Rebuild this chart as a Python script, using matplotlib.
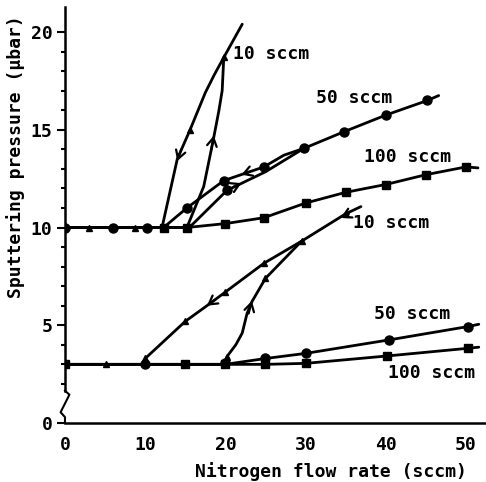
import matplotlib
matplotlib.use("Agg")
import matplotlib.pyplot as plt

# upper set (baseline 10 ubar)
up10_x = [0, 15.2, 16.2, 17.3, 18.5, 19.2, 19.6, 19.8, 22.1]
up10_y = [10, 10.0, 11.0, 12.1, 14.5, 16.0, 17.0, 18.7, 20.4]
up10_back_x = [19.8, 18.6, 17.5, 15.6, 14.0, 12.1]
up10_back_y = [18.7, 17.8, 16.9, 15.0, 13.5, 10.0]
up10_mx = [3, 8.75, 15.6, 19.8]
up10_my = [10, 10, 15.0, 18.7]

up50_x = [0, 15.5, 20.2, 25, 29.8, 34.8, 40, 45.2, 46.6]
up50_y = [10, 10.0, 11.9, 12.85, 14.05, 14.9, 15.75, 16.5, 16.75]
up50_back_x = [29.8, 27.3, 24.8, 22.3, 19.8, 15.2, 12.3]
up50_back_y = [14.05, 13.7, 13.1, 12.75, 12.4, 11.0, 10.0]
up50_mx = [0, 6, 10.2, 15.2, 19.8, 20.2, 24.8, 29.8, 34.8, 40, 45.2]
up50_my = [10, 10, 10, 11.0, 12.4, 11.9, 13.1, 14.05, 14.9, 15.75, 16.5]

up100_x = [0, 15.2, 20, 24.8, 30, 35, 40, 45, 50, 51.5]
up100_y = [10, 10, 10.2, 10.5, 11.25, 11.8, 12.2, 12.7, 13.1, 13.05]
up100_mx = [12.3, 15.2, 20, 24.8, 30, 35, 40, 45, 50]
up100_my = [10, 10, 10.2, 10.5, 11.25, 11.8, 12.2, 12.7, 13.1]

# lower set (baseline 3 ubar)
lo10_x = [0, 20, 20.2, 21.3, 22.1, 22.7, 23.3, 25, 29.5, 35, 36.9]
lo10_y = [3, 3, 3.4, 4.0, 4.6, 5.6, 6.2, 7.4, 9.3, 10.7, 11.07]
lo10_back_x = [29.5, 24.8, 20, 17.7, 15, 10, 10]
lo10_back_y = [9.3, 8.17, 6.7, 6.0, 5.2, 3.3, 3.0]
lo10_mx = [5.1, 10, 15, 20, 24.8, 29.5, 35, 25, 20.2]
lo10_my = [3, 3.3, 5.2, 6.7, 8.17, 9.3, 10.7, 7.4, 3.4]

lo50_x = [0, 20, 25, 30, 40.4, 50.2, 51.6]
lo50_y = [3, 3, 3.3, 3.56, 4.25, 4.93, 5.05]
lo50_mx = [10, 20, 25, 30, 40.4, 50.2]
lo50_my = [3, 3.05, 3.35, 3.56, 4.25, 4.93]

lo100_x = [0, 25, 30, 40.2, 50.2, 51.6]
lo100_y = [3, 3.0, 3.05, 3.43, 3.82, 3.88]
lo100_mx = [0, 15, 20, 25, 30, 40.2, 50.2]
lo100_my = [3, 3, 3, 3.0, 3.05, 3.43, 3.82]

# arrows on the loops: (tail x, tail y, head x, head y)
arrows = [
    (14.5, 14.0, 14.0, 13.4),
    (18.2, 13.9, 18.55, 14.7),
    (23.0, 12.85, 22.0, 12.7),
    (21.0, 12.08, 22.0, 12.27),
    (18.7, 6.3, 17.7, 6.0),
    (35.4, 10.7, 34.4, 10.5),
    (22.9, 5.6, 23.3, 6.25),
]

labels = [
    (21.0, 18.9, "10 sccm"),
    (31.25, 16.6, "50 sccm"),
    (37.25, 13.6, "100 sccm"),
    (35.9, 10.23, "10 sccm"),
    (38.5, 5.58, "50 sccm"),
    (40.25, 2.56, "100 sccm"),
]

font = "DejaVu Sans Mono"
fig = plt.figure(figsize=(4.86, 4.82), dpi=100)
ax = fig.add_axes([65 / 486, 59 / 482, 421 / 486, 416 / 482])

lw = 2.0
kw = dict(color="black", lw=lw, solid_capstyle="round", solid_joinstyle="round")
for xs, ys in [(up10_x, up10_y), (up10_back_x, up10_back_y),
               (up50_x, up50_y), (up50_back_x, up50_back_y),
               (up100_x, up100_y), (lo10_x, lo10_y), (lo10_back_x, lo10_back_y),
               (lo50_x, lo50_y), (lo100_x, lo100_y)]:
    ax.plot(xs, ys, **kw)

ax.plot(up10_mx, up10_my, "^", color="black", ms=4.5, ls="none")
ax.plot(lo10_mx, lo10_my, "^", color="black", ms=4.5, ls="none")
ax.plot(up50_mx, up50_my, "o", color="black", ms=6.5, ls="none")
ax.plot(lo50_mx, lo50_my, "o", color="black", ms=6.5, ls="none")
ax.plot(up100_mx, up100_my, "s", color="black", ms=5.5, ls="none")
ax.plot(lo100_mx, lo100_my, "s", color="black", ms=5.5, ls="none")

for tx, ty, hx, hy in arrows:
    ax.annotate("", xy=(hx, hy), xytext=(tx, ty),
                arrowprops=dict(arrowstyle="->,head_length=0.6,head_width=0.35",
                                color="black", lw=1.6, shrinkA=0, shrinkB=0))

for x, y, s in labels:
    ax.text(x, y, s, fontsize=13, family=font, fontweight="bold",
            ha="left", va="center")

ax.set_xlim(0, 52.5)
ax.set_ylim(0, 21.28)

# left axis with break
ax.spines["left"].set_visible(False)
ax.spines["top"].set_visible(False)
ax.spines["right"].set_visible(False)
ax.spines["bottom"].set_linewidth(1.8)
ax.plot([0, 0], [21.28, 1.65], color="black", lw=1.8, clip_on=False)
ax.plot([0, 0.55, -0.55, 0, 0], [1.65, 1.45, 0.55, 0.3, 0],
        color="black", lw=1.5, clip_on=False)

ax.set_xticks([0, 10, 20, 30, 40, 50])
ax.set_yticks([0, 5, 10, 15, 20])
ax.set_yticks([y for y in range(2, 21) if y % 5 != 0], minor=True)
ax.tick_params(axis="x", length=0, pad=9)
ax.tick_params(axis="y", which="major", length=6, width=1.5, pad=3)
ax.tick_params(axis="y", which="minor", length=3, width=1.5)
for lab in ax.get_xticklabels() + ax.get_yticklabels():
    lab.set_family(font)
    lab.set_fontweight("bold")
    lab.set_fontsize(13)

ax.set_xlabel("Nitrogen flow rate (sccm)", fontsize=13, family=font,
              fontweight="bold")
ax.xaxis.set_label_coords(0.632, -0.094)
ax.set_ylabel("Sputtering pressure (\u03bcbar)", fontsize=13, family=font,
              fontweight="bold")
ax.yaxis.set_label_coords(-0.095, 0.64)

fig.savefig("out.png", dpi=100)
